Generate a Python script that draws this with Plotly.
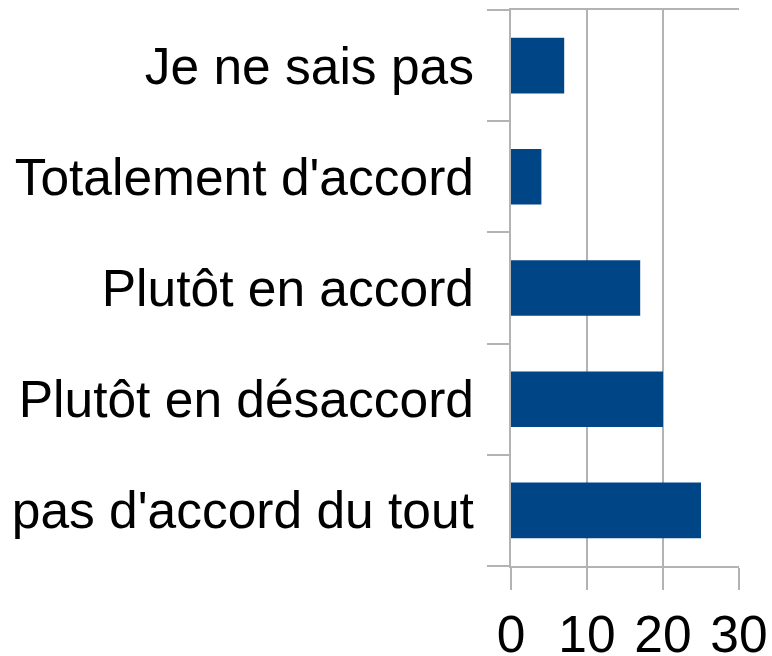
import plotly.graph_objects as go

categories = ["pas d'accord du tout", "Plutôt en désaccord", "Plutôt en accord",
              "Totalement d'accord", "Je ne sais pas"]
values = [25, 20, 17, 4, 7]
x_ticks = [0, 10, 20, 30]

fig = go.Figure(go.Bar(
    x=values, y=categories, orientation="h",
    marker=dict(color="#004586", line=dict(width=0)),
))

grid = "#b3b3b3"
fig.update_layout(
    width=772, height=656,
    margin=dict(l=511, r=33, t=10, b=90, autoexpand=False),
    paper_bgcolor="white", plot_bgcolor="white",
    bargap=0.5,
    showlegend=False,
    font=dict(family="Liberation Sans, Arial, sans-serif", size=51.5, color="black"),
    xaxis=dict(
        range=[0, 30], tickvals=x_ticks, showgrid=True, gridcolor=grid, gridwidth=1.5,
        zeroline=False, ticks="outside", ticklen=22, tickcolor=grid, tickwidth=1.5,
        showline=True, linecolor=grid, linewidth=1.5, mirror=True,
        tickfont=dict(size=51.5), fixedrange=True, automargin=False,
    ),
    yaxis=dict(
        categoryorder="array", categoryarray=categories, range=[-0.5, 4.5],
        tickson="boundaries", ticks="outside", ticklen=22, tickcolor=grid, tickwidth=1.5,
        showline=True, linecolor=grid, linewidth=1.5, showgrid=False,
        tickfont=dict(size=51.5), ticklabelstandoff=25, fixedrange=True, automargin=False,
    ),
)

fig.write_html(
    "out.html",
    config={"displayModeBar": False},
    post_script="document.body.style.margin='0';document.documentElement.style.overflow='hidden';",
)
